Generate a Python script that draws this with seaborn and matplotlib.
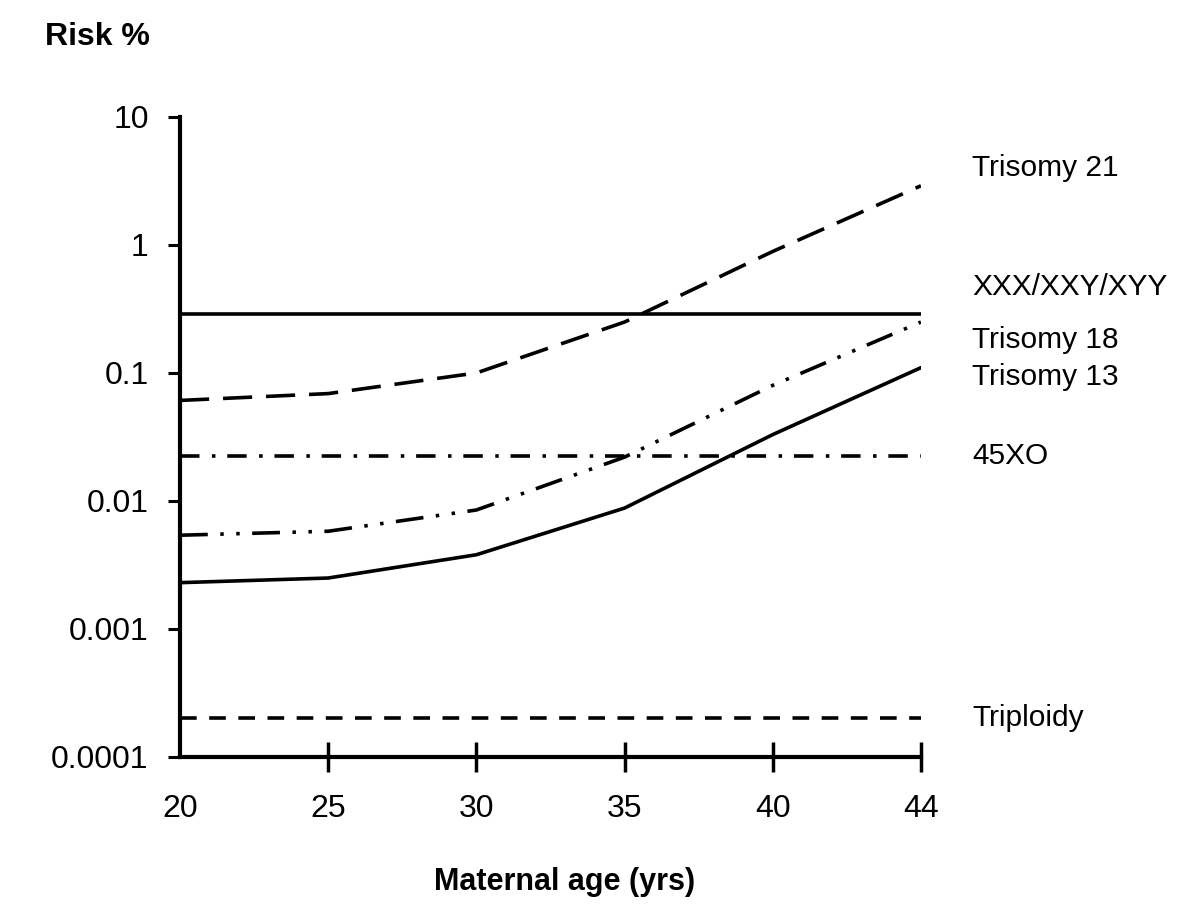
import matplotlib
matplotlib.use("Agg")
import matplotlib.pyplot as plt
from matplotlib.ticker import NullLocator
import pandas as pd
import seaborn as sns

# values (risk in %)
ages = ["20", "25", "30", "35", "40", "44"]
trisomy21 = [0.061, 0.069, 0.10, 0.25, 0.89, 2.9]
sex_chrom = [0.29, 0.29, 0.29, 0.29, 0.29, 0.29]
trisomy18 = [0.0054, 0.0058, 0.0085, 0.022, 0.080, 0.25]
trisomy13 = [0.0023, 0.0025, 0.0038, 0.0088, 0.033, 0.11]
xo45 = [0.0225, 0.0225, 0.0225, 0.0225, 0.0225, 0.0225]
triploidy = [0.0002, 0.0002, 0.0002, 0.0002, 0.0002, 0.0002]

series_names = ["Trisomy 21", "XXX/XXY/XYY", "Trisomy 18", "Trisomy 13", "45XO", "Triploidy"]
y_ticks = [0.0001, 0.001, 0.01, 0.1, 1, 10]
y_tick_labels = ["0.0001", "0.001", "0.01", "0.1", "1", "10"]

sns.set_style("white")
plt.rcParams["font.family"] = ["Liberation Sans", "DejaVu Sans"]
plt.rcParams["lines.scale_dashes"] = False
plt.rcParams["text.color"] = "black"

df = pd.DataFrame({
    "pos": list(range(len(ages))) * 6,
    "risk": trisomy21 + sex_chrom + trisomy18 + trisomy13 + xo45 + triploidy,
    "series": [s for s in series_names for _ in ages],
})

styles = {
    "Trisomy 21": (0, (21, 10)),
    "XXX/XXY/XYY": "-",
    "Trisomy 18": (0, (20, 9, 2.5, 9, 2.5, 9)),
    "Trisomy 13": "-",
    "45XO": (0, (14, 9, 2.5, 8.5)),
    "Triploidy": (0, (12, 9)),
}
# label offsets (points) from the line end
label_offsets = {
    "Trisomy 21": 13, "XXX/XXY/XYY": 19, "Trisomy 18": -13,
    "Trisomy 13": -6.5, "45XO": 0, "Triploidy": 0,
}

fig = plt.figure(figsize=(12.04, 9.13), dpi=100)
ax = fig.add_axes([0.1495, 0.1709, 0.6154, 0.701])

for name in series_names:
    sub = df[df["series"] == name]
    sns.lineplot(data=sub, x="pos", y="risk", ax=ax, color="black",
                 linewidth=2.6, linestyle=styles[name], estimator=None,
                 legend=False)
    ax.annotate(name, xy=(sub["pos"].iloc[-1], sub["risk"].iloc[-1]),
                xytext=(37, label_offsets[name]), textcoords="offset points",
                ha="left", va="center", fontsize=21.5, color="black",
                annotation_clip=False)

ax.set_yscale("log")
ax.set_ylim(0.0001, 10)
ax.set_xlim(0, len(ages) - 1)
ax.set_yticks(y_ticks, y_tick_labels)
ax.set_xticks(range(len(ages)), ages)
ax.yaxis.set_minor_locator(NullLocator())
ax.set_xlabel("")
ax.set_ylabel("")

for side in ["top", "right"]:
    ax.spines[side].set_visible(False)
for side in ["left", "bottom"]:
    ax.spines[side].set_linewidth(3)
    ax.spines[side].set_color("black")

ax.tick_params(axis="y", direction="out", length=8.5, width=2.2,
               pad=14, labelsize=23, colors="black", left=True)
ax.tick_params(axis="x", direction="inout", length=21, width=2.5,
               pad=16, labelsize=23, colors="black", bottom=True)
ax.xaxis.get_major_ticks()[0].tick1line.set_visible(False)

fig.text(0.0374, 0.9595, "Risk %", fontsize=23, fontweight="bold",
         ha="left", va="center", color="black")
fig.text(0.469, 0.034, "Maternal age (yrs)", fontsize=22, fontweight="bold",
         ha="center", va="center", color="black")

fig.savefig("out.png", dpi=100, facecolor="white")
